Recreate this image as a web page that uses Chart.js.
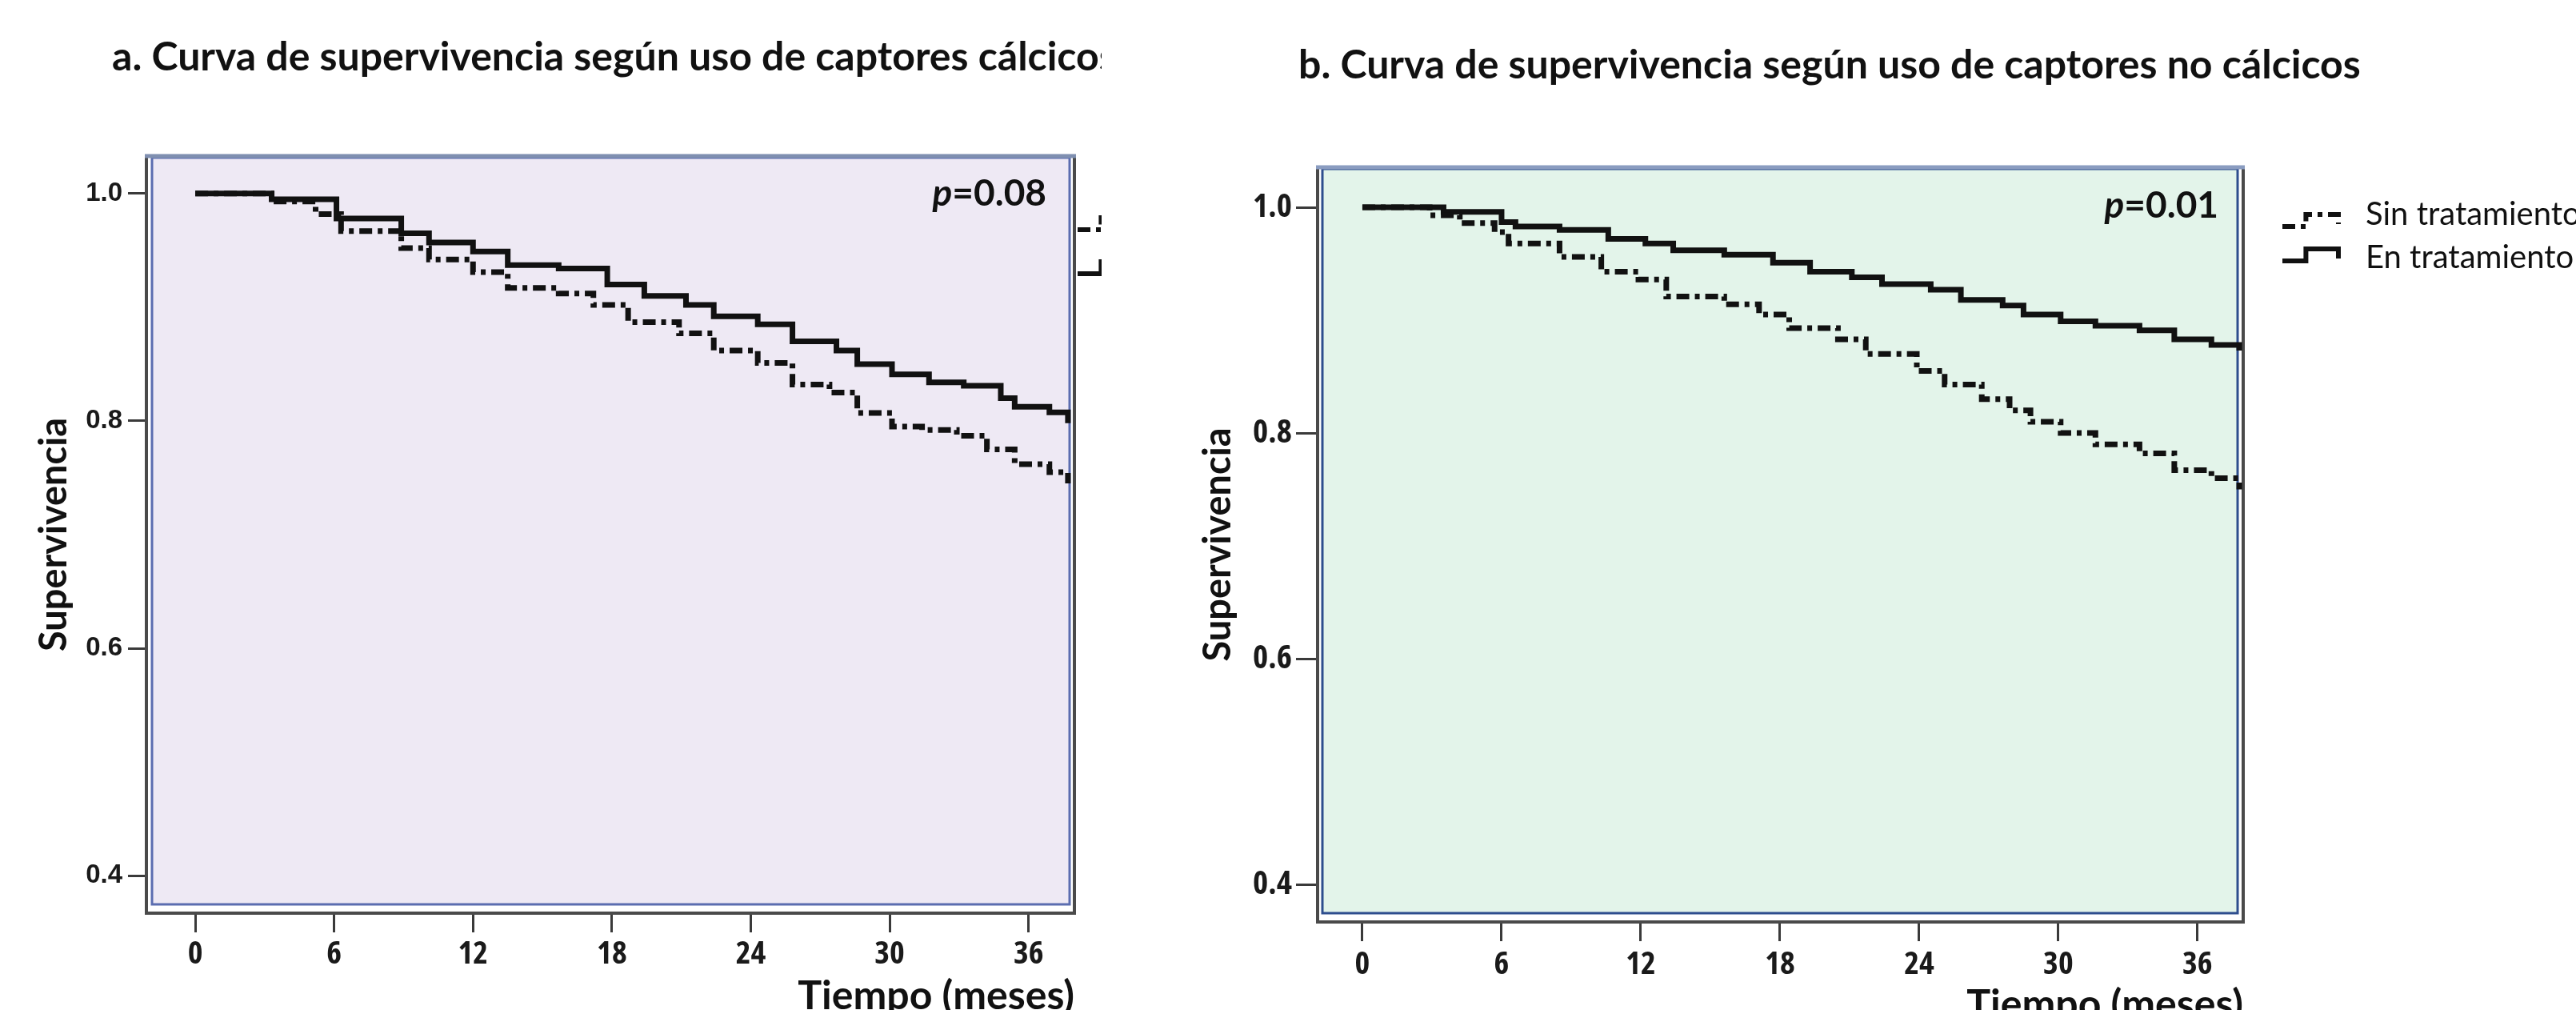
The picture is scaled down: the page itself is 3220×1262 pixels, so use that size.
<!DOCTYPE html>
<html lang="es">
<head>
<meta charset="UTF-8">
<title>Curvas de supervivencia</title>
<style>
  html, body { margin: 0; padding: 0; background: #fff; }
  body { width: 3220px; height: 1262px; position: relative; overflow: hidden; }
  #wrapA { position: absolute; left: 0; top: 0; width: 1377px; height: 1262px; overflow: hidden; }
  #wrapB { position: absolute; left: 1380px; top: 0; width: 1840px; height: 1262px; overflow: hidden; }
</style>
</head>
<body>
<div id="wrapA"><canvas id="chartA" width="1377" height="1262"></canvas></div>
<div id="wrapB"><canvas id="chartB" width="1840" height="1262"></canvas></div>
<script src="https://cdn.jsdelivr.net/npm/chart.js@4.4.1/dist/chart.umd.min.js"></script>
<script>
const seriesNames = ["Sin tratamiento", "En tratamiento"];
const xTicks = [0, 6, 12, 18, 24, 30, 36];
const yTicks = [0.4, 0.6, 0.8, 1.0];

// a. captores cálcicos
const aSinTime = [0, 2.1, 3.3, 5.2, 6.3, 8.9, 10.1, 12, 13.5, 15.7, 17.2, 18.7, 20.9, 22.4, 24.3, 25.8, 27.4, 28.6, 30.1, 31.4, 32.9, 34.2, 35.4, 36.9, 37.7];
const aSinSurv = [1.0, 1.0, 0.993, 0.982, 0.967, 0.952, 0.942, 0.931, 0.917, 0.912, 0.902, 0.887, 0.877, 0.862, 0.851, 0.832, 0.825, 0.807, 0.795, 0.792, 0.787, 0.775, 0.762, 0.755, 0.745];
const aEnTime = [0, 2.1, 3.3, 6.1, 8.9, 10.1, 12, 13.5, 15.7, 17.8, 19.4, 21.2, 22.4, 24.3, 25.8, 27.7, 28.6, 30.1, 31.7, 33.2, 34.8, 35.4, 36.9, 37.7];
const aEnSurv = [1.0, 1.0, 0.995, 0.978, 0.965, 0.957, 0.949, 0.937, 0.934, 0.92, 0.91, 0.902, 0.892, 0.885, 0.87, 0.862, 0.85, 0.841, 0.834, 0.831, 0.82, 0.8125, 0.8075, 0.798];

// b. captores no cálcicos
const bSinTime = [0, 2, 2.9, 4.2, 5.7, 6.3, 8.5, 10.3, 11.9, 13.1, 15.6, 17.1, 18.4, 20.5, 21.7, 23.9, 25.1, 26.7, 27.9, 28.8, 30.1, 31.6, 33.5, 35, 36.6, 37.8];
const bSinSurv = [1.0, 1.0, 0.993, 0.986, 0.978, 0.968, 0.956, 0.943, 0.936, 0.921, 0.914, 0.905, 0.893, 0.883, 0.87, 0.855, 0.843, 0.83, 0.82, 0.81, 0.80, 0.79, 0.782, 0.767, 0.76, 0.75];
const bEnTime = [0, 2, 3.5, 6, 6.6, 8.5, 10.6, 12.2, 13.4, 15.6, 17.7, 19.3, 21.1, 22.4, 24.5, 25.8, 27.6, 28.5, 30.1, 31.6, 33.5, 35, 36.6, 37.8];
const bEnSurv = [1.0, 1.0, 0.996, 0.987, 0.983, 0.98, 0.972, 0.968, 0.962, 0.958, 0.951, 0.943, 0.938, 0.932, 0.927, 0.918, 0.913, 0.905, 0.899, 0.895, 0.891, 0.883, 0.878, 0.873];

const WIDE = "'Liberation Sans', Arial, sans-serif";
const NARROW = "'Open Sans', 'Liberation Sans', sans-serif";
const HUMAN = "Lato, 'Open Sans', sans-serif";

function pts(t, s) {
  return t.map((x, i) => ({ x: x, y: s[i] }));
}

function stepSymbol(ctx, x, y, w, dash) {
  ctx.save();
  ctx.strokeStyle = '#111';
  ctx.lineWidth = 6;
  ctx.setLineDash(dash || []);
  ctx.beginPath();
  ctx.moveTo(x, y);
  ctx.lineTo(x + w * 0.42, y);
  ctx.lineTo(x + w * 0.42, y - 15);
  ctx.lineTo(x + w, y - 15);
  ctx.lineTo(x + w, y - 3);
  ctx.stroke();
  ctx.restore();
}

// frame, title, p value and legend for one panel
function decor(p) {
  return {
    id: 'decor',
    beforeDatasetsDraw(chart) {
      const ctx = chart.ctx, a = chart.chartArea;
      ctx.save();
      ctx.fillStyle = '#fff';
      ctx.fillRect(a.left, a.top, a.right - a.left, a.bottom - a.top);
      const il = a.left + p.inset[0], it = a.top + p.inset[1];
      const ir = a.right - p.inset[2], ib = a.bottom - p.inset[3];
      ctx.fillStyle = p.fill;
      ctx.fillRect(il, it, ir - il, ib - it);
      ctx.strokeStyle = p.inner;
      ctx.lineWidth = 3;
      ctx.strokeRect(il, it, ir - il, ib - it);
      ctx.strokeStyle = '#4a4a4a';
      ctx.lineWidth = 4;
      ctx.beginPath();
      ctx.moveTo(a.left, a.top);
      ctx.lineTo(a.left, a.bottom);
      ctx.lineTo(a.right, a.bottom);
      ctx.lineTo(a.right, a.top);
      ctx.stroke();
      ctx.strokeStyle = p.topEdge;
      ctx.lineWidth = 5;
      ctx.beginPath();
      ctx.moveTo(a.left - 2, a.top);
      ctx.lineTo(a.right + 2, a.top);
      ctx.stroke();
      ctx.restore();
    },
    afterDraw(chart) {
      const ctx = chart.ctx;
      ctx.save();
      ctx.fillStyle = '#111';
      ctx.textBaseline = 'middle';
      ctx.textAlign = 'left';
      ctx.font = 'bold ' + p.titleSize + 'px ' + HUMAN;
      ctx.fillText(p.title, p.titleX, p.titleY);

      // p value, right aligned
      ctx.textAlign = 'right';
      ctx.font = 'bold 46px ' + HUMAN;
      const rest = '=' + p.pval;
      ctx.fillText(rest, p.pX, p.pY);
      const w = ctx.measureText(rest).width;
      ctx.font = 'italic bold 46px ' + HUMAN;
      ctx.fillText('p', p.pX - w, p.pY);

      // legend
      chart.data.datasets.forEach((d, i) => {
        stepSymbol(ctx, p.legX, p.legY[i], 70, d.borderDash);
        if (p.legTextY) {
          ctx.textAlign = 'left';
          ctx.font = '40px ' + HUMAN;
          ctx.fillStyle = '#111';
          ctx.fillText(d.label, p.legX + 104, p.legTextY[i]);
        }
      });
      ctx.restore();
    }
  };
}

function makeChart(id, p) {
  return new Chart(document.getElementById(id), {
    type: 'line',
    data: {
      datasets: [
        { label: seriesNames[0], data: pts(p.sinT, p.sinS), borderColor: '#111', borderWidth: 7,
          borderDash: [16, 7, 6, 7], stepped: true, pointRadius: 0, fill: false },
        { label: seriesNames[1], data: pts(p.enT, p.enS), borderColor: '#111', borderWidth: 7,
          stepped: true, pointRadius: 0, fill: false }
      ]
    },
    options: {
      responsive: false,
      animation: false,
      layout: { padding: p.pad },
      plugins: { legend: { display: false }, tooltip: { enabled: false }, title: { display: false } },
      scales: {
        x: {
          type: 'linear', min: p.xMin, max: p.xMax,
          afterBuildTicks: s => { s.ticks = xTicks.map(v => ({ value: v })); },
          afterFit: s => { s.height = p.xAxisH; },
          border: { display: false },
          grid: { drawOnChartArea: false, tickLength: 24, tickWidth: 3, tickColor: '#3a3a3a' },
          ticks: { padding: p.xTickPad, color: '#1a1a1a', maxRotation: 0, autoSkip: false,
                   font: { family: NARROW, weight: 'bold condensed', size: 40 } },
          title: { display: true, text: 'Tiempo (meses)', align: 'end', color: '#111',
                   font: { family: HUMAN, weight: 'bold', size: 50 }, padding: { top: 0, bottom: p.xTitlePad } }
        },
        y: {
          min: p.yMin, max: p.yMax,
          afterBuildTicks: s => { s.ticks = yTicks.map(v => ({ value: v })); },
          afterFit: s => { s.width = p.yAxisW; },
          border: { display: false },
          grid: { drawOnChartArea: false, tickLength: p.yTickLen, tickWidth: 3, tickColor: '#3a3a3a' },
          ticks: { padding: p.yTickPad, color: '#1a1a1a', callback: v => v.toFixed(1), font: p.yFont },
          title: { display: true, text: 'Supervivencia', color: '#111',
                   font: { family: HUMAN, weight: 'bold', size: 47 }, padding: { top: p.yTitlePad, bottom: 0 } }
        }
      }
    },
    plugins: [decor(p)]
  });
}

makeChart('chartA', {
  sinT: aSinTime, sinS: aSinSurv, enT: aEnTime, enS: aEnSurv,
  xMin: -2.11, xMax: 37.98, yMin: 0.367, yMax: 1.033,
  pad: { left: 0, top: 195, right: 34, bottom: 0 },
  xAxisH: 121, yAxisW: 183, yTickLen: 23, yTickPad: 7, xTickPad: 4,
  yFont: { family: WIDE, weight: 'bold', size: 33 },
  xTitlePad: -13, yTitlePad: 40,
  inset: [7, 2, 6, 11], fill: '#EEE9F4', inner: '#5B6DB0', topEdge: '#7F8FB0',
  title: 'a. Curva de supervivencia según uso de captores cálcicos', titleX: 140, titleY: 72, titleSize: 50,
  pval: '0.08', pX: 1308, pY: 242,
  legX: 1347, legY: [287, 342], legTextY: null
});

makeChart('chartB', {
  sinT: bSinTime, sinS: bSinSurv, enT: bEnTime, enS: bEnSurv,
  xMin: -1.93, xMax: 37.97, yMin: 0.3667, yMax: 1.0355,
  pad: { left: 0, top: 209, right: 416, bottom: 0 },
  xAxisH: 110, yAxisW: 267, yTickLen: 27, yTickPad: 5, xTickPad: 6,
  yFont: { family: NARROW, weight: 'bold condensed', size: 41 },
  xTitlePad: -24, yTitlePad: 115,
  inset: [6, 2, 7, 11], fill: '#E3F4EA', inner: '#2E4E8E', topEdge: '#8A9CC0',
  title: 'b. Curva de supervivencia según uso de captores no cálcicos', titleX: 243, titleY: 82, titleSize: 50,
  pval: '0.01', pX: 1393, pY: 257,
  legX: 1473, legY: [283, 326], legTextY: [268, 322]
});
</script>
</body>
</html>
